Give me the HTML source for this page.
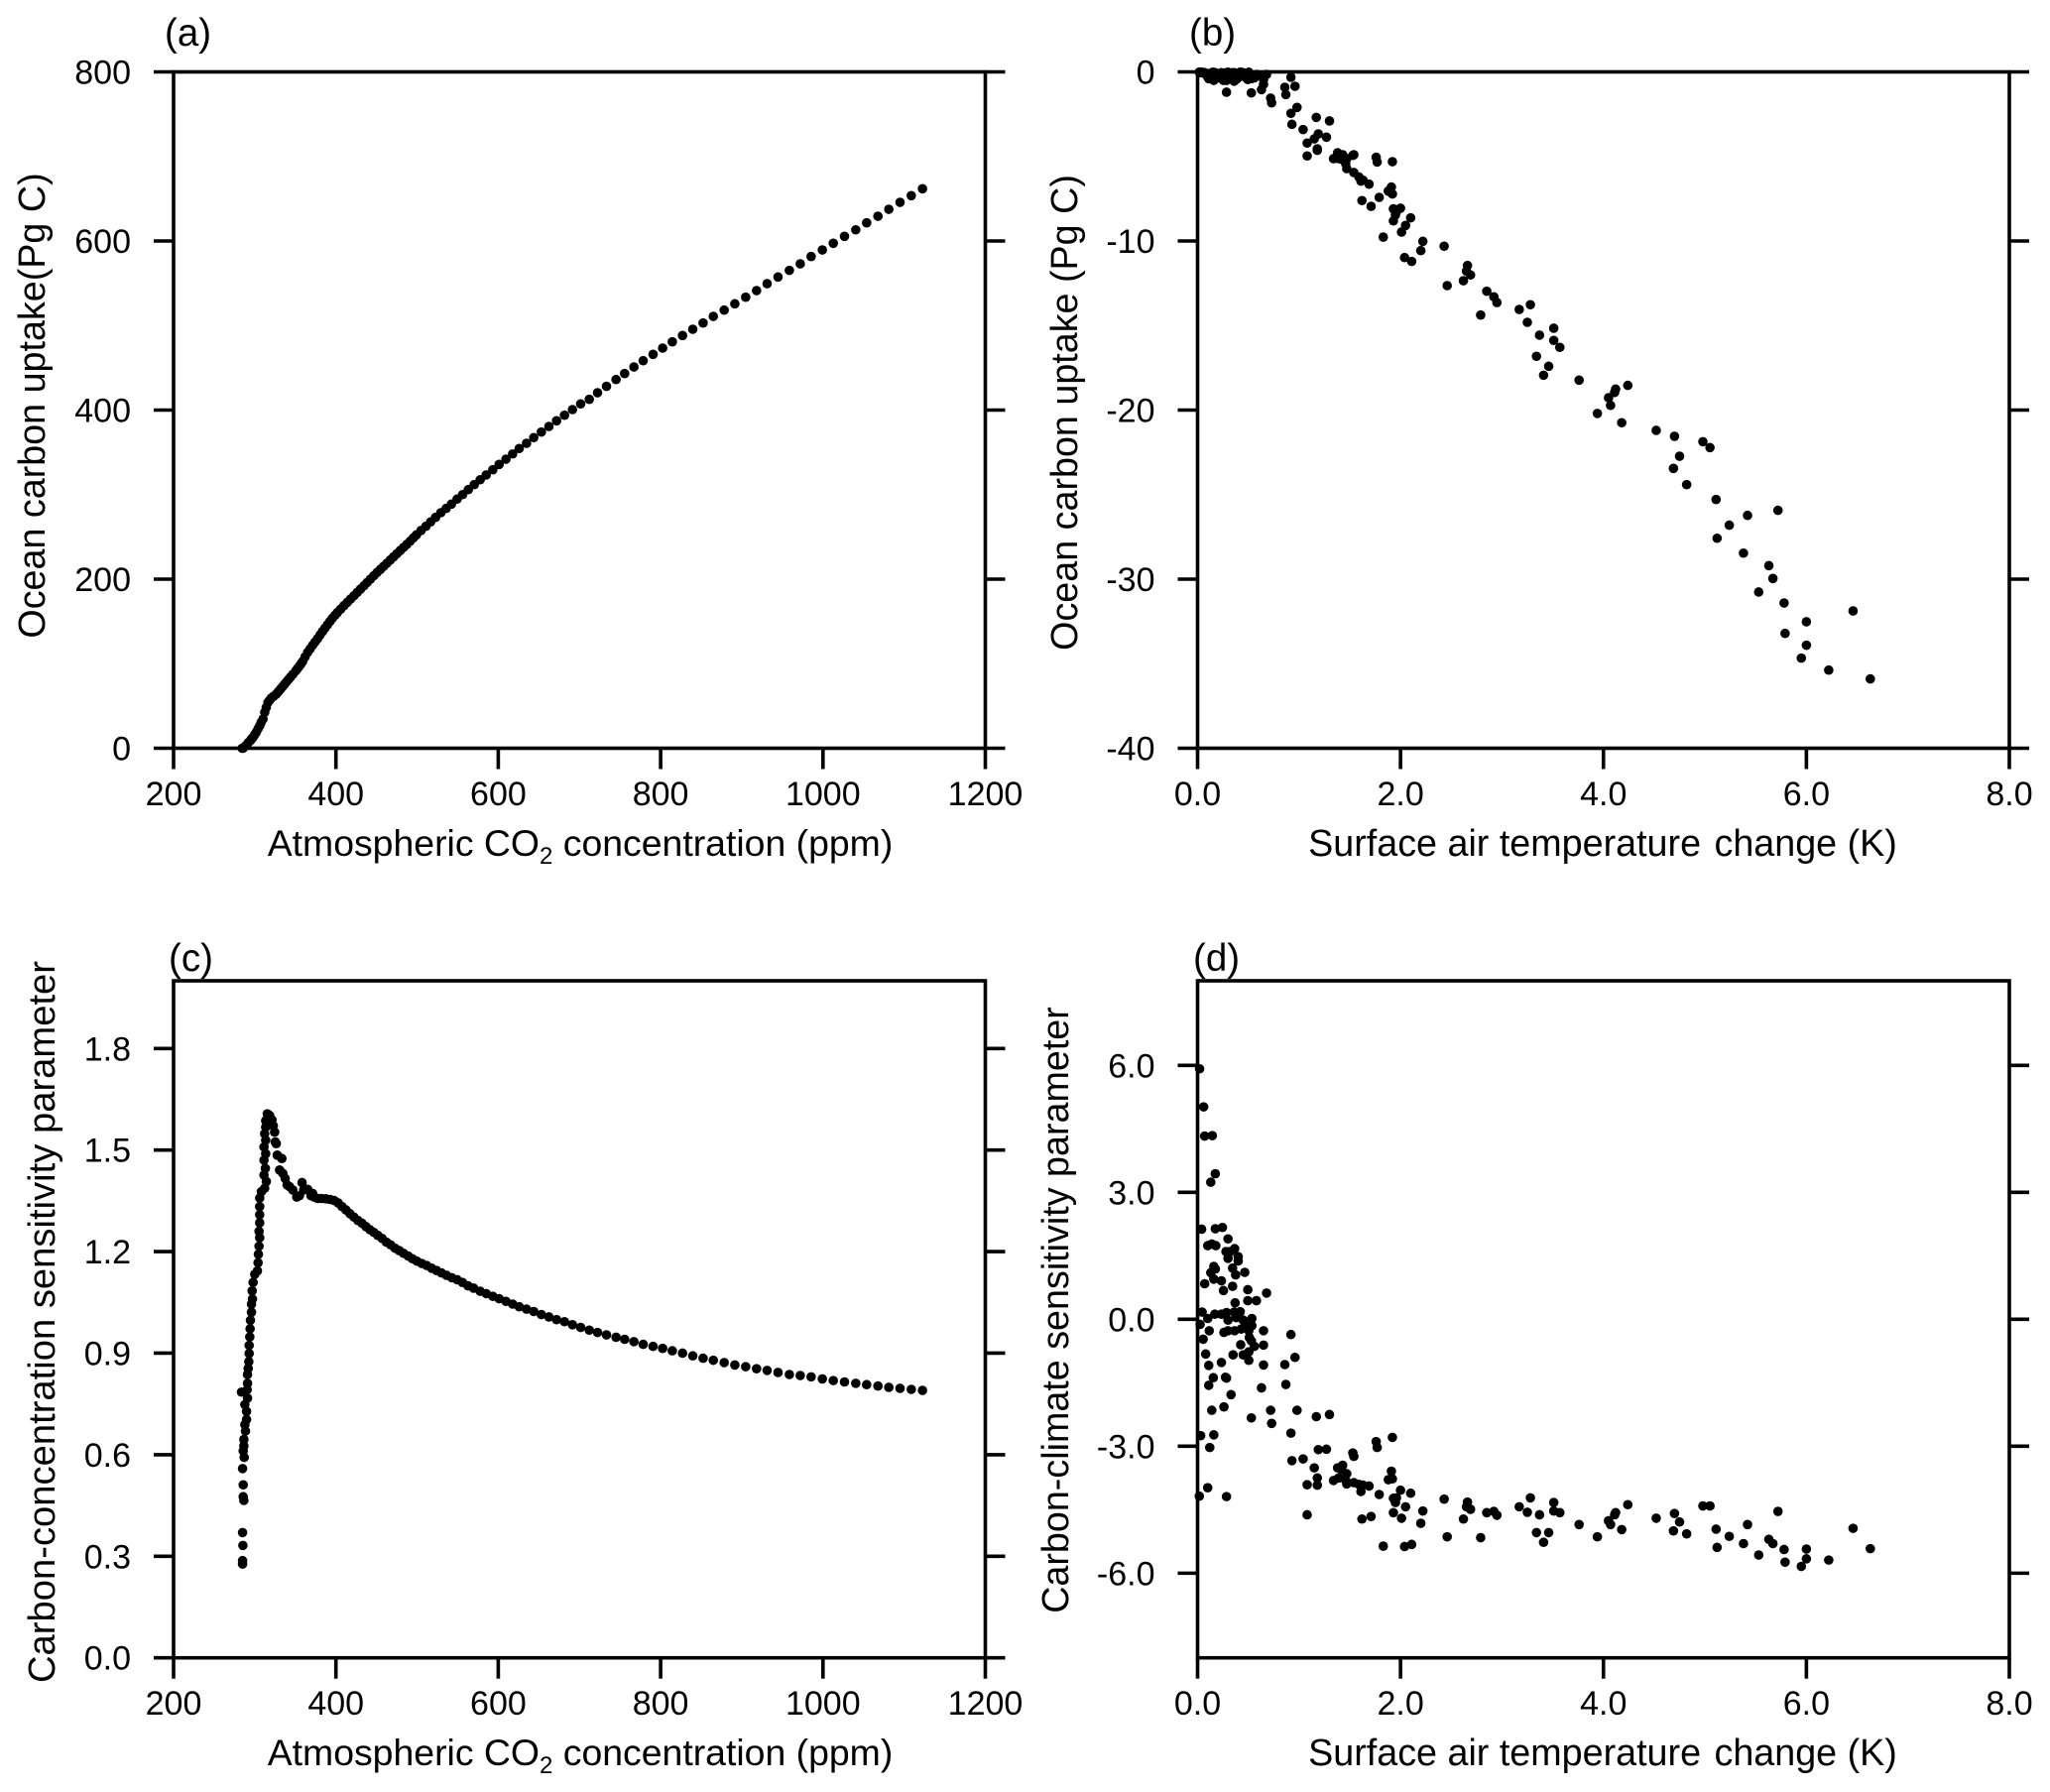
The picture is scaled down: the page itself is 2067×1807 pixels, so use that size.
<!DOCTYPE html>
<html lang="en">
<head>
<meta charset="utf-8">
<title>Ocean carbon uptake and sensitivity parameters</title>
<style>
  html, body { margin: 0; padding: 0; background: #fff; }
  svg { display: block; }
  text { font-family: "Liberation Sans", Arial, sans-serif; fill: #000; }
  .tick { font-size: 34px; }
  .title { font-size: 37.7px; }
  .title-co2 { font-size: 37.4px; }
  .panel { font-size: 38.5px; }
</style>
</head>
<body>
<svg id="figure" xmlns="http://www.w3.org/2000/svg" width="2067" height="1807" viewBox="0 0 2067 1807">
  <rect width="2067" height="1807" fill="#fff"/>

  <text class="panel" x="166" y="46">(a)</text>
  <text class="panel" x="1199" y="46">(b)</text>
  <text class="panel" x="170" y="979">(c)</text>
  <text class="panel" x="1203" y="979">(d)</text>

  <text class="title-co2" x="585" y="863" text-anchor="middle">Atmospheric CO<tspan font-size="24" dy="8">2</tspan><tspan dy="-8"> concentration (ppm)</tspan></text>
  <text class="title" x="1616" y="863" text-anchor="middle">Surface air temperature <tspan dx="3">change (K)</tspan></text>
  <text class="title-co2" x="585" y="1780" text-anchor="middle">Atmospheric CO<tspan font-size="24" dy="8">2</tspan><tspan dy="-8"> concentration (ppm)</tspan></text>
  <text class="title" x="1616" y="1780" text-anchor="middle">Surface air temperature <tspan dx="3">change (K)</tspan></text>

  <text class="title" transform="translate(45 409) rotate(-90)" text-anchor="middle">Ocean carbon uptake(Pg C)</text>
  <text class="title" transform="translate(1086 416) rotate(-90)" text-anchor="middle">Ocean carbon uptake (Pg C)</text>
  <text class="title" font-size="38.2" style="font-size:38.2px" transform="translate(55 1333) rotate(-90)" text-anchor="middle">Carbon-concentration sensitivity parameter</text>
  <text class="title" transform="translate(1077 1321) rotate(-90)" text-anchor="middle">Carbon-climate sensitivity parameter</text>
</svg>

<script>
// ---- Tick labels ----
const co2Ticks = [200, 400, 600, 800, 1000, 1200];
const tempTicks = ["0.0", "2.0", "4.0", "6.0", "8.0"];
const uptakeTicksA = [0, 200, 400, 600, 800];
const uptakeTicksB = [0, -10, -20, -30, -40];
const betaTicks = ["0.0", "0.3", "0.6", "0.9", "1.2", "1.5", "1.8"];
const gammaTicks = ["-6.0", "-3.0", "0.0", "3.0", "6.0"];

// ---- Panel (a): CO2 (ppm) vs ocean carbon uptake (Pg C) ----
const co2A = [1122.6,1108.8,1094.9,1081.1,1067.7,1053.8,1040.4,1026.5,1012.7,999.2,985.4,972,958.6,944.6,931.2,918.2,904.8,891.4,878.3,864.9,852.3,839.6,827,814.4,802.5,790.7,778.5,767.1,755.7,745.1,733.3,722.3,712.1,701.5,691.4,681.6,671.8,662.4,653.1,643.7,634.8,625.8,617.7,609.5,601,593.3,585.1,577.7,570.4,563.1,556.1,549.3,542.3,535.8,529.2,522.8,516.7,510.9,504.8,499.2,491.4,483.3,475.1,466.9,458.9,450.7,442.5,434.4,426.3,418.1,410,401.8,395.7,389.6,383.5,377.4,371.3,365.2,359,355,350.5,346.9,342,336.7,331.6,326.4,320.3,316.3,314.2,312.3,310.2,307.8,306.2,302,298,294.9,291.9,288.8,285.8,284.5,495.3,487.4,479.2,471,462.9,454.8,446.6,438.4,430.3,422.2,414,405.9,398.8,392.7,386.5,380.4,374.3,368.2,362,357,352.7,344.4,339.3,334.1,329,323.3,318.3,304,300,296.4];
const uptakeA = [661.8,653.6,645.7,637.5,629.3,621.5,613.2,605.5,597.3,589.4,581.6,573,565.2,557.4,549.5,541.3,533.5,525.7,518.2,510.8,503,495.6,488.2,480.7,473.3,465.9,458.4,451,443.2,436.1,428.1,420.5,412.7,407.3,400.6,393.9,387.3,380.6,374,367.4,360.7,354.5,348.1,341.9,335.7,329.4,323.2,317.6,311.8,305.9,300,294.7,288.8,283.6,278.6,273.1,267.7,262.5,257.5,252.4,244.9,237.5,230.1,222.6,215.2,207.9,200,192.1,184.4,176.5,168.7,160.5,153.9,146,138.2,129.6,121.8,113.5,102.6,97.1,91.5,87.4,81.8,75.7,69.8,63.9,59.2,54.2,48.3,42.5,34.6,30.5,26.7,19,13.1,9.4,6.5,2.9,0.2,0,248.7,241.2,233.8,226.3,218.9,211.5,204,196,188.2,180.4,172.6,164.6,157.2,150,142.1,133.9,125.7,117.6,108,99.8,94.3,84.6,78.7,72.7,66.8,61.5,56.7,22.9,16,11.2];

// ---- Panel (c): CO2 (ppm) vs carbon-concentration sensitivity ----
const co2C = [1122.6,1108.8,1094.9,1081.1,1067.7,1053.8,1040.4,1026.5,1012.7,999.2,985.4,972,958.6,944.6,931.2,918.2,904.8,891.4,878.3,864.9,852.3,839.6,827,814.4,802.5,790.7,778.5,767.1,755.7,745.1,733.3,722.3,712.1,701.5,691.4,681.6,671.8,662.4,653.1,643.7,634.8,625.8,617.7,609.5,601,593.3,585.1,577.7,569.6,562.7,555.8,549.3,542.7,536.2,530.1,524,517.9,511.8,505.7,499.6,494.3,489,483.3,478,472.7,467.4,462.1,456.8,451.5,446.6,441.7,436.9,432,427.1,422.2,417.3,412.4,407.5,402.7,397.8,392.9,387.6,382.3,377.4,373.3,369.3,371.3,365.2,358.3,360.3,355,351.8,346.9,342.8,339.9,337.5,334.6,330.6,333.4,327.7,326.5,325.3,324.5,322.8,321.2,318.4,315.5,313.5,313.5,312.2,313.5,311.4,313.5,311.4,313.1,311.4,314.3,312.2,308.2,306.1,306.1,306.1,306.1,305.3,306.1,305.3,304.5,304.1,303.3,300,298,296.8,297.2,296,296,294.7,294.3,293.9,293.1,293.1,292.7,291.9,291.1,291.1,290.7,283.7,291.1,287.8,289.9,289.9,287.8,288.6,286.6,286.6,285.8,287,285,285.8,285.8,286.6,285,285.4,285,285];
const betaC = [0.790,0.793,0.796,0.799,0.803,0.807,0.811,0.815,0.819,0.824,0.830,0.834,0.837,0.843,0.849,0.854,0.860,0.865,0.872,0.879,0.885,0.892,0.900,0.907,0.914,0.920,0.926,0.934,0.941,0.947,0.954,0.961,0.968,0.976,0.984,0.993,0.999,1.007,1.014,1.023,1.030,1.037,1.045,1.053,1.061,1.068,1.076,1.083,1.092,1.099,1.109,1.117,1.123,1.130,1.137,1.144,1.151,1.159,1.165,1.172,1.179,1.187,1.195,1.203,1.210,1.220,1.228,1.239,1.248,1.257,1.265,1.274,1.284,1.292,1.302,1.312,1.323,1.333,1.344,1.351,1.354,1.356,1.357,1.357,1.361,1.365,1.372,1.384,1.404,1.382,1.365,1.361,1.382,1.392,1.397,1.416,1.431,1.441,1.475,1.485,1.519,1.524,1.553,1.572,1.589,1.602,1.607,1.587,1.568,1.548,1.529,1.509,1.489,1.470,1.446,1.426,1.407,1.387,1.377,1.358,1.333,1.309,1.285,1.260,1.241,1.216,1.192,1.167,1.143,1.133,1.109,1.084,1.060,1.045,1.021,0.997,0.972,0.948,0.923,0.899,0.875,0.855,0.837,0.811,0.792,0.785,0.767,0.748,0.728,0.704,0.689,0.670,0.645,0.626,0.611,0.592,0.559,0.511,0.476,0.465,0.370,0.332,0.287,0.277];

// ---- Panels (b) and (d): temperature change (K), uptake (Pg C), climate sensitivity ----
const tempChange = [6.63,6.46,6.22,6.00,6.00,5.95,5.79,5.78,5.72,5.67,5.63,5.53,5.42,5.38,5.24,5.12,5.11,5.05,4.98,4.82,4.75,4.70,4.69,4.52,4.24,4.18,4.12,4.11,4.07,4.05,3.94,3.76,3.57,3.51,3.51,3.46,3.41,3.37,3.34,3.28,3.25,3.17,2.95,2.92,2.85,2.79,2.69,2.66,2.65,2.62,2.46,2.43,2.22,2.20,2.11,2.04,2.10,2.05,2.01,2.00,1.96,1.93,1.95,1.93,1.92,1.91,1.92,1.88,1.83,1.79,1.71,1.76,1.77,1.69,1.62,1.61,1.63,1.59,1.54,1.54,1.53,1.47,1.46,1.47,1.43,1.42,1.38,1.39,1.34,1.30,1.27,1.19,1.17,1.18,1.18,1.15,1.08,1.08,1.04,0.93,0.92,0.98,0.96,0.92,0.86,0.87,0.73,0.72,0.68,0.65,0.65,0.65,0.63,0.53,0.285,0.02,0.06,0.07,0.145,0.175,0.13,0.04,0.175,0.245,0.30,0.10,0.14,0.18,0.365,0.28,0.32,0.40,0.40,0.30,0.16,0.175,0.13,0.345,0.375,0.465,0.16,0.235,0.07,0.345,0.255,0.495,0.37,0.495,0.58,0.045,0.10,0.17,0.235,0.285,0.36,0.42,0.535,0.30,0.38,0.45,0.025,0.48,0.535,0.115,0.26,0.30,0.365,0.43,0.505,0.055,0.51,0.53,0.425,0.56,0.08,0.35,0.45,0.505,0.505,0.235,0.11,0.155,0.275,0.11,0.33,0.26,0.14,0.16,0.03,0.12,0.10,0.017,0.285];
const uptakeB = [-35.9,-31.88,-35.38,-33.91,-32.52,-34.67,-33.21,-31.41,-25.93,-29.96,-29.2,-30.76,-26.23,-28.46,-26.81,-27.58,-25.29,-22.22,-21.87,-24.41,-22.73,-21.55,-23.45,-21.2,-18.54,-20.75,-18.76,-18.96,-19.72,-19.27,-20.2,-18.23,-16.29,-15.16,-15.88,-17.41,-17.94,-15.57,-16.82,-13.77,-14.81,-14.05,-13.64,-13.3,-12.97,-14.38,-12.01,-11.45,-11.78,-12.35,-12.64,-10.31,-10.02,-10.57,-11.21,-10.98,-8.63,-9.08,-9.47,-8.06,-8.26,-8.10,-8.46,-8.81,-5.31,-6.81,-7.22,-7.05,-9.77,-7.42,-7.95,-5.05,-5.33,-6.64,-7.61,-6.46,-6.4,-6.21,-5.95,-4.90,-4.94,-5.72,-5.43,-5.13,-4.90,-5.17,-4.78,-5.13,-5.13,-2.90,-3.86,-3.67,-2.69,-4.55,-4.64,-3.96,-4.21,-4.97,-3.41,-3.10,-2.45,-2.10,-0.85,-0.32,-0.91,-1.34,-1.83,-1.55,-0.15,-0.44,-0.73,-0.25,-1.05,-1.24,-1.20,-0.02,-0.03,-0.05,-0.03,-0.1,-0.25,-0.02,-0.05,-0.1,-0.1,-0.3,-0.4,-0.35,-0.05,-0.05,-0.1,-0.35,-0.1,-0.3,-0.3,-0.2,-0.15,-0.05,-0.3,-0.1,-0.1,-0.3,-0.1,-0.45,-0.5,-0.1,-0.2,-0.45,-0.15,-0.03,-0.2,-0.38,-0.4,-0.5,-0.55,-0.02,-0.2,-0.2,-0.45,-0.05,-0.02,-0.35,-0.3,-0.15,-0.15,-0.02,-0.35,-0.25,-0.3,-0.05,-0.25,-0.4,-0.02,-0.35,-0.1,-0.25,-0.1,-0.15,-0.02,-0.05,-0.4,-0.02,-0.3,-0.3,-0.4,-0.2,-0.15,-0.5,-0.05,-0.35,-0.1,-0.01,-0.25];
const gammaD = [-5.42,-4.94,-5.69,-5.66,-5.43,-5.84,-5.74,-5.44,-4.54,-5.30,-5.20,-5.57,-4.85,-5.30,-5.13,-5.39,-4.96,-4.41,-4.41,-5.07,-4.79,-4.59,-5.00,-4.70,-4.38,-4.97,-4.57,-4.62,-4.85,-4.76,-5.14,-4.85,-4.57,-4.33,-4.53,-5.04,-5.27,-4.62,-5.04,-4.22,-4.56,-4.43,-4.63,-4.54,-4.57,-5.16,-4.49,-4.32,-4.43,-4.72,-5.14,-4.25,-4.53,-4.82,-5.32,-5.37,-4.11,-4.43,-4.70,-4.04,-4.22,-4.23,-4.33,-4.57,-2.79,-3.59,-3.77,-3.79,-5.36,-4.14,-4.66,-2.89,-3.03,-3.94,-4.72,-4.07,-3.92,-3.90,-3.86,-3.24,-3.16,-3.89,-3.81,-3.65,-3.45,-3.55,-3.51,-3.75,-3.81,-2.25,-3.07,-3.08,-2.30,-3.75,-3.92,-3.51,-3.91,-4.62,-3.30,-3.34,-2.69,-2.15,-0.90,-0.36,-1.07,-1.54,-2.46,-2.15,0.62,-0.27,-0.61,-1.08,-1.62,-2.33,-1.39,5.92,5.02,4.33,4.34,3.44,3.24,2.13,2.14,2.17,1.90,1.74,1.78,1.74,1.67,1.60,1.60,1.48,1.38,1.44,1.25,1.19,1.10,1.21,1.05,1.11,0.95,0.91,0.84,0.78,0.68,0.70,0.39,0.44,0.44,0.17,0.02,0.12,0.12,0.16,0.17,0.18,0.02,-0.02,0.04,-0.02,-0.12,-0.15,-0.15,-0.27,-0.31,-0.27,-0.27,-0.23,-0.27,-0.47,-0.43,-0.51,-0.60,-0.64,-0.82,-0.84,-0.84,-0.77,-0.97,-1.02,-1.09,-1.38,-1.37,-1.56,-1.78,-2.07,-2.15,-2.73,-2.75,-3.03,-3.98,-4.18,-4.19];

// ---- Drawing ----
const NS = "http://www.w3.org/2000/svg";
const svg = document.getElementById("figure");
const DOT_RADIUS = 4.8;
const TICK_LEN = 20;
const LINE_WIDTH = 3.6;

function linear(d0, d1, r0, r1) {
  return v => r0 + (v - d0) * (r1 - r0) / (d1 - d0);
}

function node(tag, attrs, parent) {
  const el = document.createElementNS(NS, tag);
  for (const k in attrs) el.setAttribute(k, attrs[k]);
  parent.appendChild(el);
  return el;
}

function drawPanel(id, box, xDomain, yDomain, xTicks, yTicks, xs, ys) {
  const x = linear(xDomain[0], xDomain[1], box.left, box.right);
  const y = linear(yDomain[0], yDomain[1], box.bottom, box.top);

  const g = node("g", {}, svg);
  
  

  const frame = node("rect", {
    x: box.left, y: box.top, width: box.right - box.left, height: box.bottom - box.top,
    fill: "none", stroke: "#000", "stroke-width": LINE_WIDTH
  }, g);
  
  

  xTicks.forEach(t => {
    const px = x(Number(t));
    const line = node("line", {
      x1: px, x2: px, y1: box.bottom, y2: box.bottom + TICK_LEN + 1,
      stroke: "#000", "stroke-width": LINE_WIDTH
    }, g);
    
    
    const label = node("text", { x: px, y: box.bottom + 57.5, "text-anchor": "middle", "class": "tick" }, g);
    
    
    label.textContent = t;
  });

  yTicks.forEach(t => {
    const py = y(Number(t));
    const left = node("line", {
      x1: box.left - TICK_LEN, x2: box.left, y1: py, y2: py,
      stroke: "#000", "stroke-width": LINE_WIDTH
    }, g);
    
    
    const right = node("line", {
      x1: box.right, x2: box.right + TICK_LEN, y1: py, y2: py,
      stroke: "#000", "stroke-width": LINE_WIDTH
    }, g);
    
    
    const label = node("text", { x: box.left - 43, y: py + 12, "text-anchor": "end", "class": "tick" }, g);
    
    
    label.textContent = t;
  });

  xs.forEach((v, i) => {
    const dot = node("circle", { cx: x(v), cy: y(ys[i]), r: DOT_RADIUS, fill: "#000" }, g);
    
    
  });
}

const boxA = { left: 175, right: 993.5, top: 72.5, bottom: 754.5 };
const boxB = { left: 1207.5, right: 2026, top: 72.5, bottom: 754.5 };
const boxC = { left: 175, right: 993.5, top: 989, bottom: 1671.7 };
const boxD = { left: 1207.5, right: 2026, top: 989, bottom: 1671.7 };

drawPanel("panel-a", boxA, [200, 1200], [0, 800], co2Ticks, uptakeTicksA, co2A, uptakeA);
drawPanel("panel-b", boxB, [0, 8], [-40, 0], tempTicks, uptakeTicksB, tempChange, uptakeB);
drawPanel("panel-c", boxC, [200, 1200], [0, 2], co2Ticks, betaTicks, co2C, betaC);
drawPanel("panel-d", boxD, [0, 8], [-8, 8], tempTicks, gammaTicks, tempChange, gammaD);
</script>
</body>
</html>
